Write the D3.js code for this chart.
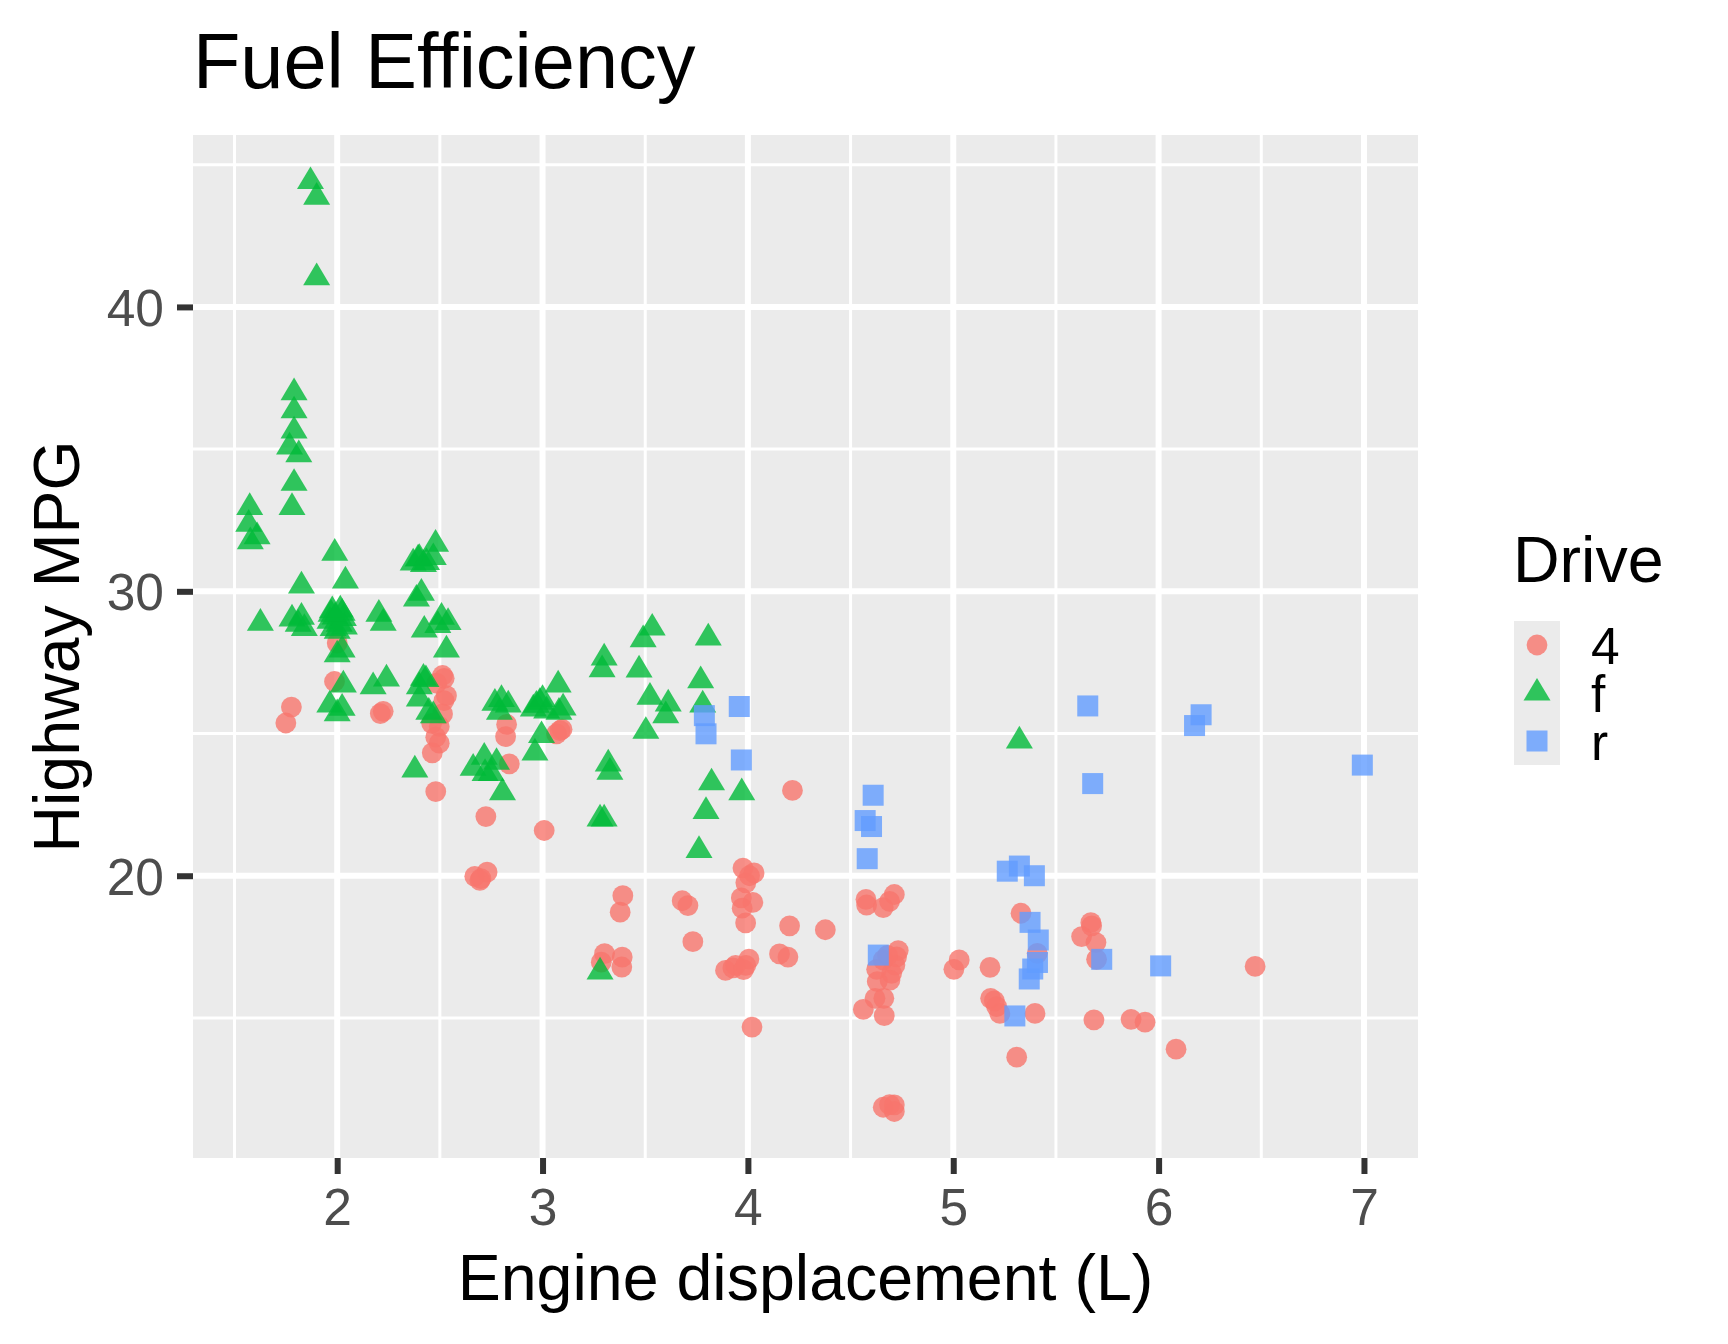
<!DOCTYPE html>
<html>
<head>
<meta charset="utf-8">
<script src="https://cdn.jsdelivr.net/npm/d3@7"></script>
<style>
body { margin: 0; background: #fff; }
svg text { font-family: "Liberation Sans", Arial, sans-serif; }
</style>
</head>
<body>
<svg id="chart" width="1728" height="1344"></svg>
<script>
"use strict";

// drive categories and legend labels
var drives = ["4", "f", "r"];
var driveColors = ["#F8766D", "#00BA38", "#619CFF"];

// jittered points (displacement L, highway mpg)
var fourDispl = [1.777, 1.75, 2.0, 1.987, 2.224, 2.21,
    2.521, 2.484, 2.532, 2.513, 2.46, 2.497, 2.48, 2.497, 2.463, 2.48, 2.513, 2.52,
    2.724, 2.67, 2.70, 2.73, 2.695, 2.825, 2.82, 2.838, 3.008, 3.085, 3.068, 3.095,
    3.302, 3.286, 3.391, 3.378, 3.388, 3.386, 3.68, 3.708, 3.732, 3.891, 3.927, 3.94,
    3.976, 4.008, 3.99, 4.03, 3.968, 4.024, 3.972, 3.989, 4.005, 3.979, 3.99, 4.02,
    4.217, 4.203, 4.154, 4.195, 4.377,
    4.575, 4.578, 4.659, 4.713, 4.69, 4.732, 4.724, 4.716, 4.627, 4.659, 4.70, 4.68,
    4.692, 4.63, 4.619, 4.662, 4.562, 4.664, 4.659, 4.713, 4.713, 4.69,
    5.029, 5.003, 5.179, 5.182, 5.211, 5.227, 5.20, 5.33, 5.309, 5.398, 5.409,
    5.674, 5.67, 5.625, 5.695, 5.698, 5.685, 5.866, 5.934, 6.085, 6.47];
var fourHwy = [25.93, 25.37, 28.18, 26.83, 25.78, 25.7,
    26.94, 26.77, 26.33, 25.69, 25.36, 25.25, 24.87, 24.66, 24.32, 22.96, 27.04, 26.16,
    22.08, 19.98, 19.9, 20.13, 19.84, 25.32, 24.89, 23.93, 21.59, 25.1, 24.99, 25.15,
    17.26, 16.96, 19.30, 18.72, 17.14, 16.79, 19.12, 18.95, 17.68, 16.67, 16.76, 16.85,
    20.27, 20.0, 19.75, 20.1, 19.22, 19.06, 18.86, 18.34, 17.07, 16.70, 16.85, 14.68,
    23.0, 18.24, 17.25, 17.14, 18.10,
    19.17, 18.97, 18.88, 19.34, 19.1, 17.37, 17.15, 16.86, 16.71, 17.04, 16.57, 17.2,
    16.33, 16.28, 15.69, 15.69, 15.30, 15.08, 11.86, 11.94, 11.71, 11.95,
    17.04, 16.71, 16.78, 15.69, 15.40, 15.16, 15.6, 18.68, 13.62, 15.16, 17.27,
    18.24, 18.35, 17.86, 17.65, 17.06, 14.93, 14.95, 14.85, 13.90, 16.81];

var frontDispl = [1.87, 1.90, 1.90,
    1.574, 1.569, 1.61, 1.577, 1.626,
    1.79, 1.79, 1.79, 1.768, 1.813, 1.79, 1.78, 1.826, 1.78, 1.826, 1.84, 1.81,
    1.988, 2.04, 1.976, 2.024, 1.99, 1.965, 2.01, 2.03, 1.98, 2.0, 2.035, 1.97, 2.015,
    2.024, 2.0, 1.964, 2.024, 2.0, 2.03,
    2.203, 2.224, 2.175, 2.24,
    2.394, 2.435, 2.37, 2.40, 2.42, 2.41, 2.386, 2.424, 2.42, 2.40, 2.432, 2.40, 2.378,
    2.479, 2.468, 2.508, 2.54, 2.49, 2.532, 2.468, 2.446,
    2.716, 2.662, 2.72, 2.768, 2.833, 2.79, 2.80, 2.776, 2.75, 2.805,
    2.987, 2.955, 3.02, 3.0, 2.97, 2.995, 2.963, 3.076, 3.08, 3.1,
    3.30, 3.29, 3.32, 3.328, 3.28, 3.30, 3.28,
    3.534, 3.49, 3.47, 3.523, 3.503, 3.612, 3.60,
    3.807, 3.77, 3.78, 3.823, 3.796, 3.762, 3.97, 5.322];
var frontHwy = [44.41, 43.86, 41.03,
    32.95, 32.36, 31.92, 31.75, 28.88,
    36.99, 36.35, 35.64, 35.08, 34.81, 33.80, 32.95, 30.19, 29.03, 29.09, 28.70, 28.85,
    31.34, 30.37, 29.32, 29.23, 29.1, 28.95, 28.85, 29.05, 28.7, 28.6, 28.75, 29.2, 29.35,
    27.94, 27.77, 26.01, 25.89, 25.7, 26.71,
    29.2, 28.88, 26.65, 26.92,
    31.14, 31.02, 31.0, 31.16, 30.95, 29.94, 29.73, 28.64, 26.95, 26.65, 26.9, 26.22, 23.72,
    31.66, 31.19, 29.09, 28.91, 28.8, 27.94, 25.63, 25.75,
    24.17, 23.78, 23.6, 26.07, 26.01, 25.75, 26.2, 23.99, 23.6, 22.92,
    26.10, 25.87, 25.8, 26.2, 26.0, 24.93, 24.32, 26.71, 25.75, 25.9,
    27.66, 27.25, 23.93, 23.64, 22.0, 22.0, 16.62,
    28.71, 28.30, 27.24, 26.28, 25.08, 26.04, 25.63,
    28.36, 26.86, 26.01, 23.27, 22.26, 20.89, 22.92, 24.74];

var rearDispl = [3.788, 3.796, 3.958, 3.968,
    4.61, 4.571, 4.602, 4.581, 4.635,
    5.263, 5.322, 5.30, 5.395, 5.374, 5.414, 5.387, 5.37, 5.41,
    5.723, 5.679, 5.655, 6.01, 6.175, 6.207, 6.992];
var rearHwy = [25.63, 24.99, 25.95, 24.07,
    22.83, 21.94, 21.73, 20.60, 17.21,
    20.16, 20.34, 15.07, 20.0, 18.36, 17.74, 16.72, 16.37, 16.95,
    17.06, 23.24, 25.97, 16.83, 25.28, 25.66, 23.89];

var xBreaks = [2, 3, 4, 5, 6, 7];
var xMinor = [1.5, 2.5, 3.5, 4.5, 5.5, 6.5];
var yBreaks = [20, 30, 40];
var yMinor = [15, 25, 35, 45];

var titleText = "Fuel Efficiency";
var xTitle = "Engine displacement (L)";
var yTitle = "Highway MPG";
var legendTitle = "Drive";

// build rows for d3
var series = [
    { drv: "4", xs: fourDispl, ys: fourHwy },
    { drv: "f", xs: frontDispl, ys: frontHwy },
    { drv: "r", xs: rearDispl, ys: rearHwy }
];
var points = [];
series.forEach(function(s){
    s.xs.forEach(function(x, i){
        points.push({ drv: s.drv, displ: x, hwy: s.ys[i] });
    });
});

// panel box
var panel = { left: 193, top: 135, right: 1418, bottom: 1158 };

// ggplot style 5% expansion of the data range
function expand(ext){
    var pad = (ext[1] - ext[0]) * 0.05;
    return [ext[0] - pad, ext[1] + pad];
}

var x = d3.scaleLinear()
    .domain(expand(d3.extent(points, function(d){ return d.displ; })))
    .range([panel.left, panel.right]);
var y = d3.scaleLinear()
    .domain(expand(d3.extent(points, function(d){ return d.hwy; })))
    .range([panel.bottom, panel.top]);

var color = d3.scaleOrdinal().domain(drives).range(driveColors);

var svg = d3.select("#chart");

// panel background
svg.append("rect")
    .attr("x", panel.left)
    .attr("y", panel.top)
    .attr("width", panel.right - panel.left)
    .attr("height", panel.bottom - panel.top)
    .attr("fill", "#EBEBEB");

var grid = svg.append("g").attr("stroke", "#FFFFFF");

// minor grid
grid.selectAll(".xminor").data(xMinor).enter().append("line")
    .attr("x1", function(d){ return x(d); }).attr("x2", function(d){ return x(d); })
    .attr("y1", panel.top).attr("y2", panel.bottom)
    .attr("stroke-width", 3);
grid.selectAll(".yminor").data(yMinor.filter(function(d){ return y(d) > panel.top; }))
    .enter().append("line")
    .attr("y1", function(d){ return y(d); }).attr("y2", function(d){ return y(d); })
    .attr("x1", panel.left).attr("x2", panel.right)
    .attr("stroke-width", 3);

// major grid
grid.selectAll(".xmajor").data(xBreaks).enter().append("line")
    .attr("x1", function(d){ return x(d); }).attr("x2", function(d){ return x(d); })
    .attr("y1", panel.top).attr("y2", panel.bottom)
    .attr("stroke-width", 6);
grid.selectAll(".ymajor").data(yBreaks).enter().append("line")
    .attr("y1", function(d){ return y(d); }).attr("y2", function(d){ return y(d); })
    .attr("x1", panel.left).attr("x2", panel.right)
    .attr("stroke-width", 6);

// symbols per drive
var triangle = "M0,-15.1L13.5,7.6L-13.5,7.6Z";
function drawSymbol(sel, drv){
    if ( drv == "4" ){
        sel.append("circle").attr("r", 10.4);
    }else if( drv == "f" ){
        sel.append("path").attr("d", triangle);
    }else{
        sel.append("rect").attr("x", -10.5).attr("y", -10.5)
            .attr("width", 21).attr("height", 21);
    }
}

var marks = svg.append("g").attr("class", "points");
points.forEach(function(d){
    var g = marks.append("g")
        .attr("transform", "translate(" + x(d.displ) + "," + y(d.hwy) + ")")
        .attr("fill", color(d.drv))
        .attr("fill-opacity", 0.8);
    drawSymbol(g, d.drv);
});

// axes, ggplot look
var xAxis = svg.append("g")
    .attr("transform", "translate(0," + panel.bottom + ")")
    .call(d3.axisBottom(x).tickValues(xBreaks).tickSize(16).tickPadding(14).tickFormat(d3.format("d")));
var yAxis = svg.append("g")
    .attr("transform", "translate(" + panel.left + ",0)")
    .call(d3.axisLeft(y).tickValues(yBreaks).tickSize(16).tickPadding(13).tickFormat(d3.format("d")));

[xAxis, yAxis].forEach(function(ax){
    ax.select(".domain").remove();
    ax.selectAll(".tick line").attr("stroke", "#333333").attr("stroke-width", 6);
    ax.selectAll(".tick text")
        .attr("fill", "#4D4D4D")
        .style("font-size", "51.5px")
        .style("font-family", "'Liberation Sans', Arial, sans-serif");
});
xAxis.selectAll(".tick text").attr("dy", "0.71em");
yAxis.selectAll(".tick text").attr("dy", "0.36em");

// titles
svg.append("text")
    .attr("x", panel.left)
    .attr("y", 88)
    .style("font-size", "77.5px")
    .text(titleText);

svg.append("text")
    .attr("x", (panel.left + panel.right) / 2)
    .attr("y", 1300)
    .attr("text-anchor", "middle")
    .style("font-size", "64.5px")
    .text(xTitle);

svg.append("text")
    .attr("transform", "translate(79," + ((panel.top + panel.bottom) / 2) + ") rotate(-90)")
    .attr("text-anchor", "middle")
    .style("font-size", "64.5px")
    .text(yTitle);

// legend
var legend = svg.append("g").attr("transform", "translate(1514,0)");
legend.append("text")
    .attr("x", -1)
    .attr("y", 582)
    .style("font-size", "64.5px")
    .text(legendTitle);

var keyH = 48;
legend.append("rect")
    .attr("x", 0).attr("y", 621)
    .attr("width", 46).attr("height", keyH * drives.length)
    .attr("fill", "#EBEBEB");

drives.forEach(function(drv, i){
    var cy = 621 + keyH * i + keyH / 2;
    var key = legend.append("g")
        .attr("transform", "translate(23," + cy + ")")
        .attr("fill", color(drv))
        .attr("fill-opacity", 0.8);
    drawSymbol(key, drv);
    legend.append("text")
        .attr("x", 77)
        .attr("y", cy + 18.5)
        .style("font-size", "51.5px")
        .text(drv);
});
</script>
</body>
</html>
